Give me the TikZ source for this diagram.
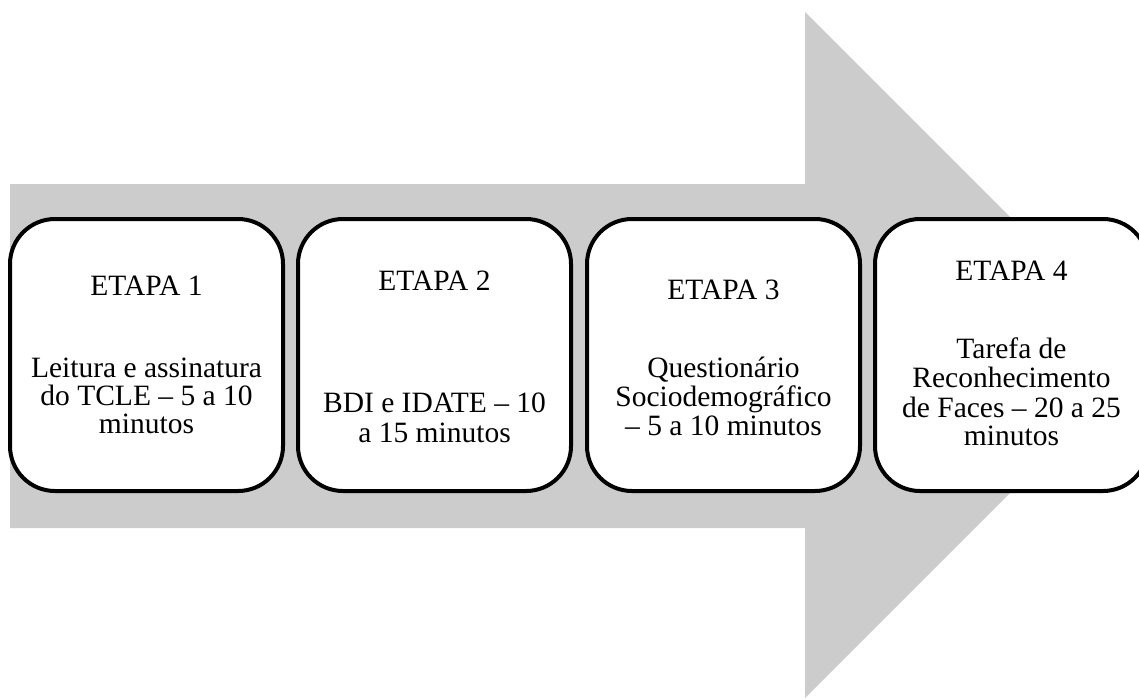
\documentclass[tikz,border=0pt]{standalone}
\usepackage{fontspec}
\setmainfont{Liberation Serif}
\definecolor{arrowgray}{RGB}{204,204,204}
\begin{document}
\begin{tikzpicture}[x=0.5pt,y=-0.5pt,
  stage/.style={draw=black,line width=2pt,rounded corners=22.5pt,fill=white,
    minimum width=136.5pt,minimum height=136pt,inner sep=0pt},
  txt/.style={font=\fontsize{14.75pt}{14.5pt}\selectfont,inner sep=0pt,anchor=base}]
\useasboundingbox (0,0) rectangle (1139,698);
\begin{scope}
\clip (0,0) rectangle (1139,698);
\fill[arrowgray] (10,184) -- (805,184) -- (805,12) -- (1148,355) -- (805,698) -- (805,528) -- (10,528) -- cycle;
\node[stage] (s1) at (146.5,355) {};
\node[stage] (s2) at (434.5,355) {};
\node[stage] (s3) at (723.5,355) {};
\node[stage] (s4) at (1011.5,355) {};
\end{scope}
% stage 1
\node[txt] (h1) at (146.5,295) {ETAPA 1};
\node[txt] (d1a) at (146.5,377) {Leitura e assinatura};
\node[txt] (d1b) at (146.5,405) {do TCLE – 5 a 10};
\node[txt] (d1c) at (146.5,433) {minutos};
% stage 2
\node[txt] (h2) at (434.5,290) {ETAPA 2};
\node[txt] (d2a) at (434.5,412) {BDI e IDATE – 10};
\node[txt] (d2b) at (434.5,442) {a 15 minutos};
% stage 3
\node[txt] (h3) at (723.5,299) {ETAPA 3};
\node[txt] (d3a) at (723.5,377) {Questionário};
\node[txt] (d3b) at (723.5,406) {Sociodemográfico};
\node[txt] (d3c) at (723.5,435) {– 5 a 10 minutos};
% stage 4
\node[txt] (h4) at (1011.5,280) {ETAPA 4};
\node[txt] (d4a) at (1011.5,358) {Tarefa de};
\node[txt] (d4b) at (1011.5,387) {Reconhecimento};
\node[txt] (d4c) at (1011.5,417) {de Faces – 20 a 25};
\node[txt] (d4d) at (1011.5,445) {minutos};
\end{tikzpicture}
\end{document}
